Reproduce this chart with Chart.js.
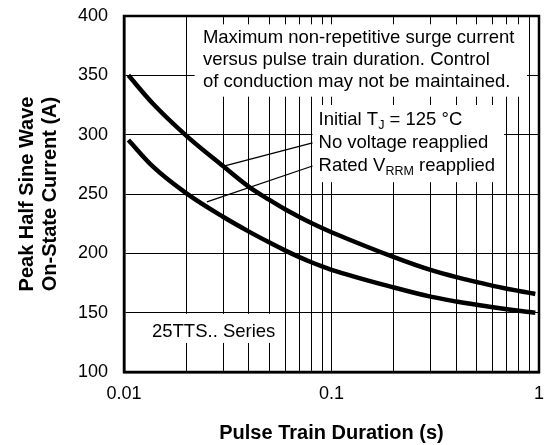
<!DOCTYPE html>
<html>
<head>
<meta charset="utf-8">
<script src="https://cdn.jsdelivr.net/npm/chart.js@4.4.1/dist/chart.umd.min.js"></script>
<style>
  html, body { margin: 0; padding: 0; background: #fff; }
  #chart { display: block; }
</style>
</head>
<body>
<canvas id="chart" width="556" height="445"></canvas>
<script>
// pulse train duration (s)
const durations = [0.0105, 0.0138, 0.02, 0.03, 0.04, 0.05, 0.06, 0.07, 0.08, 0.09, 0.1, 0.2, 0.3, 0.4, 0.5, 0.6, 0.7, 0.8, 0.9, 0.96];
// peak current (A), no voltage reapplied
const noVoltage = [350, 326, 299, 273.5, 256, 245.2, 236.9, 230.6, 225.5, 221.3, 217.8, 196.8, 186, 179.9, 175.8, 172.6, 170.2, 168.3, 166.7, 165.8];
// peak current (A), rated VRRM reapplied
const ratedVrrm = [295.5, 273, 250.5, 230.8, 218.3, 209.3, 202.3, 196.8, 192.5, 189, 186.1, 171.2, 163.5, 159.4, 156.6, 154.5, 152.9, 151.6, 150.5, 149.9];

// axes
const xGrid = [0.01, 0.02, 0.03, 0.04, 0.05, 0.06, 0.07, 0.08, 0.09, 0.1, 0.2, 0.3, 0.4, 0.5, 0.6, 0.7, 0.8, 0.9, 1];
const xTickLabels = [0.01, 0.1, 1];
const yTicks = [100, 150, 200, 250, 300, 350, 400];

const FONT = '"Liberation Sans", Arial, Helvetica, sans-serif';
const TXT = 18.5;

// note boxes (white, hide the grid) in data coordinates
const boxes = [
  { x0: 0.0219, x1: 0.875, y0: 393, y1: 332 },
  { x0: 0.081, x1: 0.679, y0: 325, y1: 260 },
  { x0: 0.0119, x1: 0.0562, y0: 149, y1: 124.5 }
];
const notes = [
  { x: 0.024, y: 381.5, parts: [['Maximum non-repetitive surge current']] },
  { x: 0.024, y: 362.9, parts: [['versus pulse train duration. Control']] },
  { x: 0.024, y: 344.4, parts: [['of conduction may not be maintained.']] },
  { x: 0.0866, y: 312.4, parts: [['Initial T'], ['J', 'sub'], [' = 125 °C']] },
  { x: 0.0866, y: 293, parts: [['No voltage reapplied']] },
  { x: 0.0866, y: 273.6, parts: [['Rated V'], ['RRM', 'sub'], [' reapplied']] },
  { x: 0.01364, y: 133.8, parts: [['25TTS.. Series']] }
];
const leaders = [
  { x0: 0.081, y0: 293, x1: 0.0306, y1: 273.6 },
  { x0: 0.081, y0: 273.6, x1: 0.0251, y1: 243.3 }
];

function drawRich(ctx, parts, x, y) {
  let cx = x;
  parts.forEach(([text, kind]) => {
    const sub = kind === 'sub';
    ctx.font = (sub ? 12.5 : TXT) + 'px ' + FONT;
    ctx.fillText(text, cx, sub ? y + 6 : y);
    cx += ctx.measureText(text).width;
  });
}

const annotate = {
  id: 'annotate',
  beforeDatasetsDraw(chart) {
    const { ctx, scales: { x, y } } = chart;
    ctx.save();
    ctx.fillStyle = '#fff';
    boxes.forEach(b => {
      const l = x.getPixelForValue(b.x0), r = x.getPixelForValue(b.x1);
      const t = y.getPixelForValue(b.y0), btm = y.getPixelForValue(b.y1);
      ctx.fillRect(l, t, r - l, btm - t);
    });
    ctx.fillStyle = '#000';
    ctx.textBaseline = 'middle';
    ctx.textAlign = 'left';
    notes.forEach(n => drawRich(ctx, n.parts, x.getPixelForValue(n.x), y.getPixelForValue(n.y)));
    ctx.restore();
  },
  afterDatasetsDraw(chart) {
    const { ctx, chartArea: a, scales: { x, y } } = chart;
    ctx.save();
    ctx.strokeStyle = '#000';
    ctx.lineWidth = 1.3;
    leaders.forEach(l => {
      ctx.beginPath();
      ctx.moveTo(x.getPixelForValue(l.x0), y.getPixelForValue(l.y0));
      ctx.lineTo(x.getPixelForValue(l.x1), y.getPixelForValue(l.y1));
      ctx.stroke();
    });
    // full frame round the plot
    ctx.lineWidth = 2.5;
    ctx.strokeRect(a.left, a.top, a.right - a.left, a.bottom - a.top);
    ctx.restore();
  }
};

const toPoints = vals => durations.map((d, i) => ({ x: d, y: vals[i] }));

new Chart(document.getElementById('chart'), {
  type: 'line',
  data: {
    datasets: [
      { label: 'No voltage reapplied', data: toPoints(noVoltage), borderColor: '#000', borderWidth: 4.5, pointRadius: 0, cubicInterpolationMode: 'monotone', fill: false },
      { label: 'Rated VRRM reapplied', data: toPoints(ratedVrrm), borderColor: '#000', borderWidth: 4.5, pointRadius: 0, cubicInterpolationMode: 'monotone', fill: false }
    ]
  },
  options: {
    responsive: false,
    animation: false,
    devicePixelRatio: 1,
    layout: { padding: { left: 0, right: 17, top: 16, bottom: 0 } },
    plugins: { legend: { display: false }, tooltip: { enabled: false } },
    scales: {
      x: {
        type: 'logarithmic',
        min: 0.01,
        max: 1,
        afterBuildTicks: scale => { scale.ticks = xGrid.map(v => ({ value: v })); },
        afterFit: scale => { scale.height = 73; },
        ticks: {
          autoSkip: false,
          maxRotation: 0,
          padding: 11,
          color: '#000',
          font: { family: FONT, size: 18 },
          callback: v => xTickLabels.includes(v) ? String(v) : ''
        },
        grid: { color: '#000', lineWidth: 1, drawTicks: false },
        border: { display: true, color: '#000', width: 2.5 },
        title: {
          display: true,
          text: 'Pulse Train Duration (s)',
          color: '#000',
          font: { family: FONT, size: 20, weight: 'bold', lineHeight: 1.15 },
          padding: { top: 0, bottom: 0 }
        }
      },
      y: {
        min: 100,
        max: 400,
        afterBuildTicks: scale => { scale.ticks = yTicks.map(v => ({ value: v })); },
        afterFit: scale => {
          scale.width = 124;
          // the tick padding would otherwise push the plot down
          scale.paddingTop = 0;
          scale.paddingBottom = 0;
        },
        ticks: {
          padding: 16,
          color: '#000',
          font: { family: FONT, size: 18 }
        },
        grid: { color: '#000', lineWidth: 1, drawTicks: false },
        border: { display: true, color: '#000', width: 2.5 },
        title: {
          display: true,
          text: ['Peak Half Sine Wave', 'On-State Current (A)'],
          color: '#000',
          font: { family: FONT, size: 20, weight: 'bold', lineHeight: 1.15 },
          padding: { top: 15.5, bottom: 0 }
        }
      }
    }
  },
  plugins: [annotate]
});
</script>
</body>
</html>
